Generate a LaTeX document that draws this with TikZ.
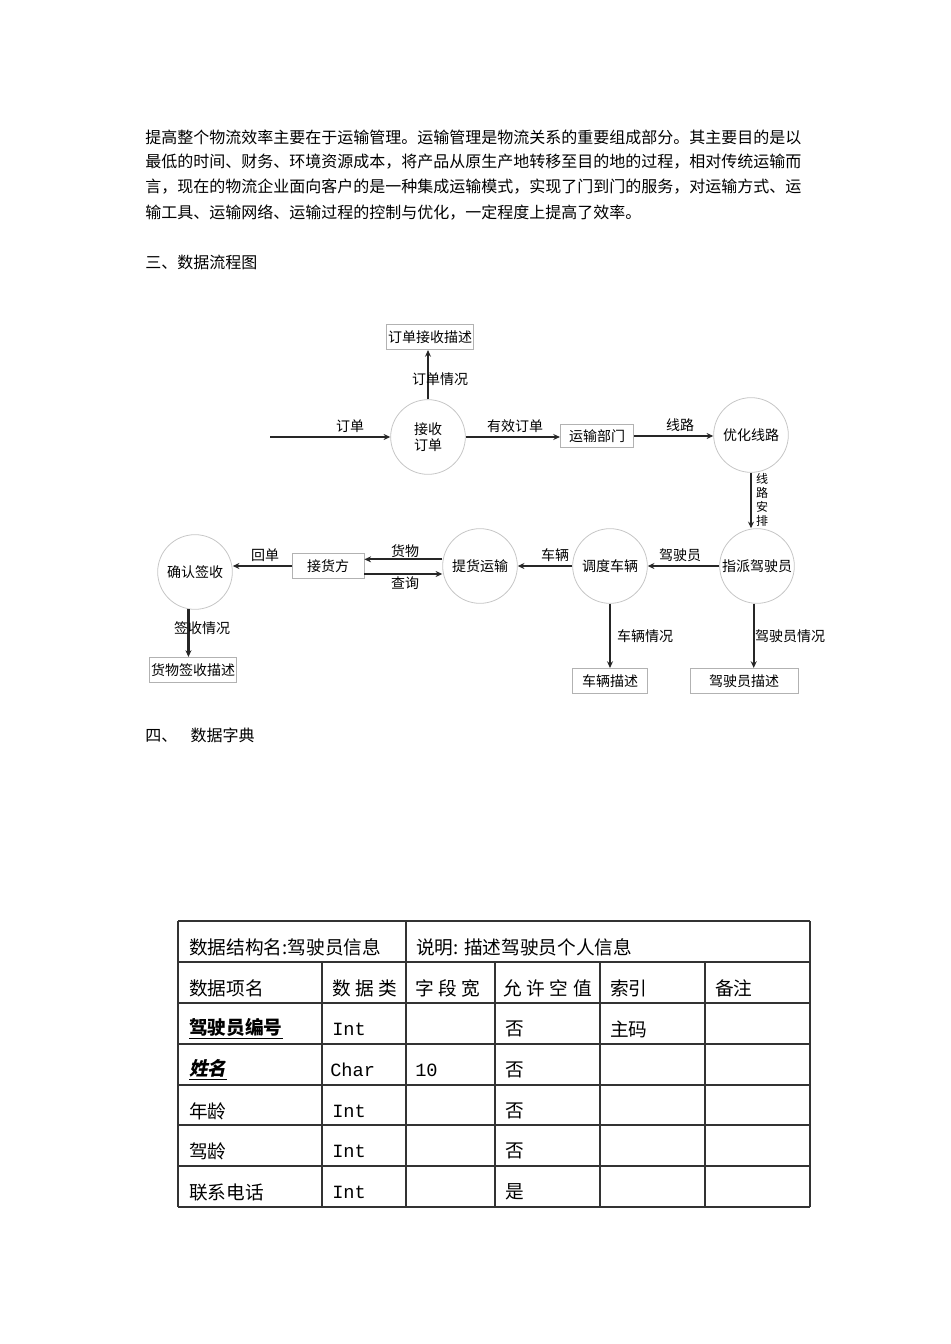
\documentclass[tikz,border=0pt]{standalone}
\usepackage{fontspec}
\setmainfont{Noto Sans CJK SC}
\newfontfamily\cjkslant{Noto Sans CJK SC}[FakeSlant=0.22]
\newfontfamily\latinmono{Liberation Mono}
\usetikzlibrary{arrows.meta, positioning, calc}

\newcommand{\bodyfont}{\fontsize{12}{14}\selectfont}
\newcommand{\dfdfont}{\fontsize{10.5}{12}\selectfont}
\newcommand{\tabfont}{\fontsize{14}{16}\selectfont}
\newcommand{\gp}{\hspace{3.5pt}}

\tikzset{
  para/.style={anchor=west, inner sep=0, font=\bodyfont},
  proc/.style={circle, draw=gray!45, line width=0.6pt, minimum size=56pt, inner sep=0, align=center, font=\dfdfont},
  store/.style={rectangle, draw=gray!60, line width=0.6pt, minimum height=19pt, inner sep=1pt, font=\dfdfont},
  flow/.style={-{Stealth[length=5pt, width=4.5pt]}, line width=1.6pt, black!85},
  lbl/.style={font=\dfdfont, inner sep=1pt},
  cell/.style={anchor=west, inner sep=0, font=\tabfont},
  tabline/.style={line width=0.8pt, black!80}
}

\begin{document}
\begin{tikzpicture}[x=0.75pt, y=-0.75pt]
    \useasboundingbox (0,0) rectangle (950,1344);

    % Paragraph
    \node[para] (p1) at (145,137) {提高整个物流效率主要在于运输管理。运输管理是物流关系的重要组成部分。其主要目的是以};
    \node[para] (p2) at (145,162) {最低的时间、财务、环境资源成本，将产品从原生产地转移至目的地的过程，相对传统运输而};
    \node[para] (p3) at (145,187) {言，现在的物流企业面向客户的是一种集成运输模式，实现了门到门的服务，对运输方式、运};
    \node[para] (p4) at (145,213) {输工具、运输网络、运输过程的控制与优化，一定程度上提高了效率。};
    \node[para] (h3) at (145,262) {三、数据流程图};

    % Processes and stores
    \node[store, minimum width=64pt] (ddms) at (430,337) {订单接收描述};
    \node[proc] (jssd) at (428,437) {接收\\订单};
    \node[store, minimum width=55pt, minimum height=17pt] (ysbm) at (597,436) {运输部门};
    \node[proc] (yhxl) at (751,435) {优化线路};
    \node[proc] (zpjs) at (757,566) {指派驾驶员};
    \node[proc] (ddcl) at (610,566) {调度车辆};
    \node[proc] (thys) at (480,566) {提货运输};
    \node[store, minimum width=54pt] (jhf) at (328,566) {接货方};
    \node[proc] (qrqs) at (195,572) {确认签收};
    \node[store, minimum width=64pt] (hwqs) at (193,670) {货物签收描述};
    \node[store, minimum width=56pt] (clms) at (610,681) {车辆描述};
    \node[store, minimum width=81pt] (jsyms) at (744,681) {驾驶员描述};
    \coordinate (src) at (270,437);

    % Data flows
    \draw[flow] (src) -- (jssd.west);
    \draw[flow] (jssd.north) -- (jssd.north |- ddms.south);
    \draw[flow] (jssd.east) -- (jssd.east -| ysbm.west);
    \draw[flow] (ysbm.east) -- (ysbm.east -| yhxl.west);
    \draw[flow] (yhxl.south) -- (yhxl.south |- zpjs.north);
    \draw[flow] (zpjs.west) -- (ddcl.east);
    \draw[flow] (ddcl.west) -- (thys.east);
    \draw[flow] ([yshift=5pt]thys.west) -- ([yshift=5pt]jhf.east);
    \draw[flow] ([yshift=-6pt]jhf.east) -- ([yshift=-6pt]thys.west);
    \draw[flow] (jhf.west) -- (jhf.west -| qrqs.east);
    \draw[flow] (qrqs.260) -- (qrqs.260 |- hwqs.north);
    \draw[flow] (ddcl.south) -- (ddcl.south |- clms.north);
    \draw[flow] (zpjs.265) -- (zpjs.265 |- jsyms.north);

    % Flow labels
    \node[lbl] (l-dd) at (350,426) {订单};
    \node[lbl] (l-ddqk) at (440,379) {订单情况};
    \node[lbl] (l-yxdd) at (515,426) {有效订单};
    \node[lbl] (l-xl) at (680,425) {线路};
    \node[lbl, font=\fontsize{9}{10.5}\selectfont, align=center] (l-xlap) at (762,500) {线\\路\\安\\排};
    \node[lbl] (l-jsy) at (680,555) {驾驶员};
    \node[lbl] (l-cl) at (555,555) {车辆};
    \node[lbl] (l-hw) at (405,551) {货物};
    \node[lbl] (l-cx) at (405,583) {查询};
    \node[lbl] (l-hd) at (265,555) {回单};
    \node[lbl] (l-qsqk) at (202,628) {签收情况};
    \node[lbl] (l-clqk) at (645,636) {车辆情况};
    \node[lbl] (l-jsyqk) at (790,636) {驾驶员情况};

    \node[para] (h4) at (145,735) {四、\hspace{10pt}数据字典};

    % Data dictionary table
    \foreach \y in {921,962,1003,1044,1085,1125,1166,1207}
        \draw[tabline] (178,\y) -- (810,\y);
    \draw[tabline] (178,921) -- (178,1207);
    \draw[tabline] (406,921) -- (406,1207);
    \draw[tabline] (810,921) -- (810,1207);
    \foreach \x in {322,495,600,705}
        \draw[tabline] (\x,962) -- (\x,1207);

    \node[cell] (t-name) at (189,947) {数据结构名:驾驶员信息};
    \node[cell] (t-desc) at (416,947) {说明:\hspace{4pt}描述驾驶员个人信息};

    \node[cell] (c11) at (189,988) {数据项名};
    \node[cell] (c12) at (332,988) {数\gp 据\gp 类};
    \node[cell] (c13) at (415,988) {字\gp 段\gp 宽};
    \node[cell] (c14) at (503,988) {允\gp 许\gp 空\gp 值};
    \node[cell] (c15) at (610,988) {索引};
    \node[cell] (c16) at (715,988) {备注};

    \node[cell] (c21) at (189,1029) {\underline{\bfseries 驾驶员编号}};
    \node[cell] (c22) at (332,1029) {\latinmono Int};
    \node[cell] (c24) at (505,1029) {否};
    \node[cell] (c25) at (610,1029) {主码};

    \node[cell] (c31) at (189,1070) {\underline{\cjkslant\bfseries 姓名}};
    \node[cell] (c32) at (330,1070) {\latinmono Char};
    \node[cell] (c33) at (415,1070) {\latinmono 10};
    \node[cell] (c34) at (505,1070) {否};

    \node[cell] (c41) at (189,1111) {年龄};
    \node[cell] (c42) at (332,1111) {\latinmono Int};
    \node[cell] (c44) at (505,1111) {否};

    \node[cell] (c51) at (189,1151) {驾龄};
    \node[cell] (c52) at (332,1151) {\latinmono Int};
    \node[cell] (c54) at (505,1151) {否};

    \node[cell] (c61) at (189,1192) {联系电话};
    \node[cell] (c62) at (332,1192) {\latinmono Int};
    \node[cell] (c64) at (505,1192) {是};
\end{tikzpicture}
\end{document}
